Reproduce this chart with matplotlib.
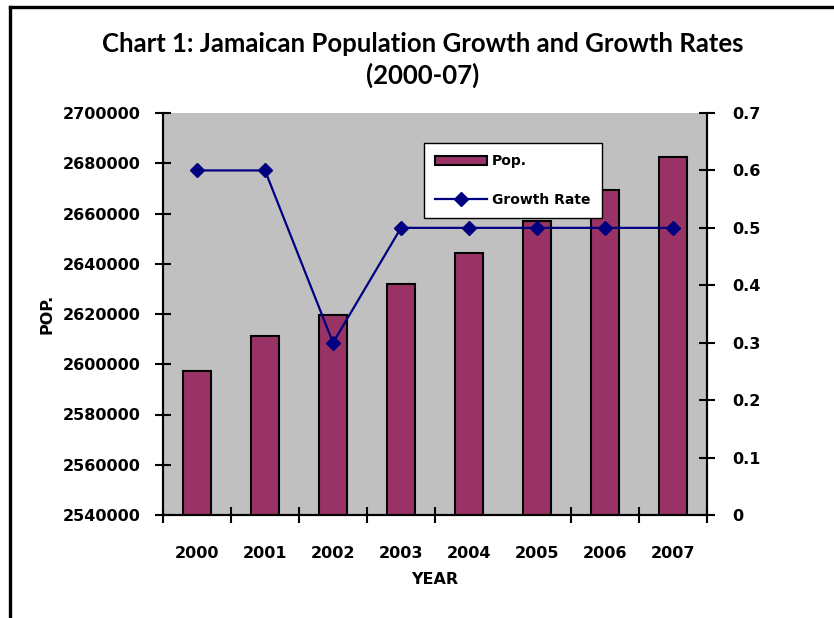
import numpy as np
import matplotlib
matplotlib.use("Agg")
import matplotlib.pyplot as plt
from matplotlib.lines import Line2D

# data
years = ["2000", "2001", "2002", "2003", "2004", "2005", "2006", "2007"]
population = [2597200, 2611100, 2619600, 2632100, 2644400, 2656900, 2669300, 2682600]
growth_rate = [0.6, 0.6, 0.3, 0.5, 0.5, 0.5, 0.5, 0.5]
pop_ticks = list(range(2540000, 2700001, 20000))
rate_ticks = [0, 0.1, 0.2, 0.3, 0.4, 0.5, 0.6, 0.7]

bar_color = "#993366"
line_color = "#000080"
tick_font = dict(family="DejaVu Sans", weight="bold", size=11.5)

fig = plt.figure(figsize=(8.34, 6.18), dpi=100)
ax = fig.add_axes([163 / 834, 1 - 515 / 618, 544 / 834, 402 / 618])
ax.set_facecolor("#C0C0C0")

x = np.arange(len(years))
bars = ax.bar(x, population, width=0.41, color=bar_color, edgecolor="black",
              linewidth=1.5, label="Pop.", zorder=2)
ax.set_xlim(-0.5, len(years) - 0.5)
ax.set_ylim(pop_ticks[0], pop_ticks[-1])
ax.set_yticks(pop_ticks, [str(v) for v in pop_ticks], **tick_font)
ax.set_xticks(x, years, **tick_font)
ax.tick_params(axis="x", which="major", length=0, pad=22)
# category boundary ticks (the one between 2004 and 2005 is missing in the source)
bounds = [b for b in np.arange(-0.5, len(years), 1.0) if abs(b - 4.5) > 0.01]
ax.set_xticks(bounds, minor=True)
ax.tick_params(axis="x", which="minor", direction="inout", length=12, width=1.5)
ax.tick_params(axis="y", direction="inout", length=12, width=1.5, pad=10)
ax.set_xlabel("YEAR", fontsize=11.5, fontweight="bold", labelpad=8)
ax.set_ylabel("POP.", fontsize=11.5, fontweight="bold", labelpad=6)

ax2 = ax.twinx()
line, = ax2.plot(x, growth_rate, color=line_color, linewidth=1.6, marker="D",
                 markersize=7, label="Growth Rate", zorder=3)
ax2.set_ylim(0, 0.7)
ax2.set_yticks(rate_ticks, ["0"] + [f"{v:.1f}" for v in rate_ticks[1:]], **tick_font)
ax2.tick_params(axis="y", direction="inout", length=12, width=1.5, pad=12)

for a in (ax, ax2):
    a.spines["top"].set_visible(False)
    for s in ("left", "right", "bottom"):
        a.spines[s].set_linewidth(1.5)

leg = ax2.legend([bars, line], ["Pop.", "Growth Rate"],
                 loc="upper left", bbox_to_anchor=(0.48, 0.925),
                 fancybox=False, framealpha=1, edgecolor="black",
                 prop=dict(family="DejaVu Sans", weight="bold", size=10),
                 labelspacing=1.8, handlelength=3.7, handletextpad=0.4,
                 borderpad=0.8, borderaxespad=0)
leg.get_frame().set_linewidth(1.0)

# chart title
fig.text(423 / 834, 1 - 44 / 618, "Chart 1: Jamaican Population Growth and Growth Rates",
         ha="center", va="center", family="Lato", weight="bold", size=18.5)
fig.text(423 / 834, 1 - 75 / 618, "(2000-07)",
         ha="center", va="center", family="Lato", weight="bold", size=18.5)

# chart frame (left and top edges)
fig.add_artist(Line2D([10 / 834, 10 / 834], [0, 1 - 7 / 618], color="black", linewidth=2.4))
fig.add_artist(Line2D([10 / 834, 1], [1 - 7 / 618, 1 - 7 / 618], color="black", linewidth=2.4))

fig.savefig("out.png", dpi=100)
